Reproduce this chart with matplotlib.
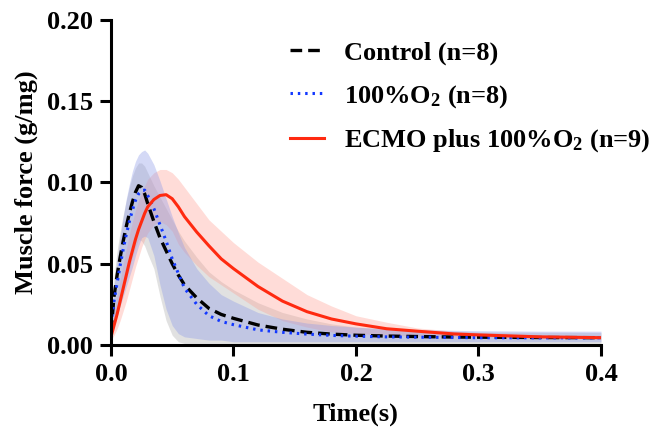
import matplotlib
matplotlib.use("Agg")
import matplotlib.pyplot as plt
import numpy as np

plt.rcParams["font.family"] = ["Liberation Serif", "DejaVu Serif"]
plt.rcParams["font.weight"] = "bold"
plt.rcParams["mathtext.fontset"] = "custom"
plt.rcParams["mathtext.rm"] = "Liberation Serif:bold"
plt.rcParams["mathtext.it"] = "Liberation Serif:bold"
plt.rcParams["mathtext.bf"] = "Liberation Serif:bold"

# time points (s)
time_s = [0, 0.0025, 0.005, 0.0075, 0.01, 0.0125, 0.015, 0.0175, 0.02, 0.0225,
          0.025, 0.0275, 0.03, 0.035, 0.04, 0.045, 0.05, 0.055, 0.06, 0.07,
          0.08, 0.09, 0.1, 0.12, 0.14, 0.16, 0.18, 0.2, 0.225, 0.25, 0.28,
          0.3, 0.35, 0.4]

# Control (n=8)
control_mean = [0.008, 0.030, 0.043, 0.054, 0.064, 0.073, 0.081, 0.088, 0.094, 0.098,
                0.097, 0.093, 0.087, 0.076, 0.066, 0.058, 0.050, 0.043, 0.037, 0.029,
                0.0225, 0.0188, 0.0164, 0.0123, 0.0097, 0.0078, 0.0067, 0.0060, 0.0055, 0.0052, 0.0049,
                0.0048, 0.0046, 0.0045]
control_upper = [0.012, 0.042, 0.058, 0.070, 0.080, 0.089, 0.097, 0.104, 0.109, 0.112,
                 0.112, 0.110, 0.106, 0.098, 0.091, 0.084, 0.077, 0.070, 0.064, 0.054,
                 0.045, 0.039, 0.034, 0.026, 0.020, 0.016, 0.013, 0.011, 0.0095, 0.0088, 0.0083,
                 0.008, 0.0078, 0.0077]
control_lower = [0.004, 0.012, 0.018, 0.025, 0.032, 0.040, 0.047, 0.054, 0.060, 0.065,
                 0.064, 0.061, 0.056, 0.047, 0.030, 0.015, 0.006, 0.002, 0.001, 0.001,
                 0.001, 0.001, 0.001, 0.001, 0.001, 0.001, 0.001, 0.001, 0.001, 0.001, 0.001,
                 0.001, 0.001, 0.001]

# 100%O2 (n=8)
o2_mean = [0.013, 0.027, 0.038, 0.049, 0.059, 0.068, 0.076, 0.083, 0.089, 0.093,
           0.095, 0.0953, 0.092, 0.084, 0.074, 0.064, 0.053, 0.044, 0.035, 0.025,
           0.018, 0.0145, 0.0125, 0.0093, 0.0078, 0.0067, 0.0059, 0.0054, 0.005, 0.0048, 0.0046,
           0.0045, 0.0044, 0.0044]
o2_upper = [0.016, 0.036, 0.052, 0.066, 0.079, 0.090, 0.099, 0.107, 0.113, 0.117,
            0.119, 0.120, 0.118, 0.111, 0.101, 0.090, 0.079, 0.069, 0.060, 0.047,
            0.038, 0.031, 0.027, 0.020, 0.016, 0.0135, 0.012, 0.011, 0.010, 0.0095, 0.009,
            0.0088, 0.0085, 0.0085]
o2_lower = [0.008, 0.013, 0.018, 0.024, 0.030, 0.036, 0.042, 0.048, 0.055, 0.061,
            0.066, 0.067, 0.066, 0.055, 0.037, 0.022, 0.012, 0.007, 0.005, 0.004,
            0.003, 0.003, 0.002, 0.002, 0.002, 0.002, 0.002, 0.002, 0.002, 0.002, 0.002,
            0.002, 0.002, 0.002]

# ECMO plus 100%O2 (n=9)
ecmo_mean = [0.005, 0.012, 0.019, 0.027, 0.035, 0.043, 0.051, 0.058, 0.065, 0.071,
             0.076, 0.081, 0.085, 0.0895, 0.092, 0.0925, 0.090, 0.085, 0.079, 0.0695,
             0.061, 0.053, 0.047, 0.036, 0.027, 0.0205, 0.016, 0.013, 0.010, 0.0085, 0.0068,
             0.0062, 0.005, 0.0045]
ecmo_upper = [0.008, 0.020, 0.030, 0.040, 0.050, 0.059, 0.068, 0.076, 0.083, 0.089,
              0.094, 0.098, 0.102, 0.106, 0.108, 0.108, 0.106, 0.102, 0.097, 0.087,
              0.077, 0.070, 0.063, 0.051, 0.041, 0.031, 0.024, 0.018, 0.014, 0.0105, 0.0085,
              0.0077, 0.0065, 0.006]
ecmo_lower = [0.003, 0.006, 0.010, 0.015, 0.021, 0.027, 0.034, 0.041, 0.048, 0.054,
              0.060, 0.065, 0.069, 0.074, 0.076, 0.074, 0.070, 0.062, 0.057, 0.049,
              0.042, 0.037, 0.032, 0.022, 0.015, 0.011, 0.008, 0.007, 0.006, 0.0055, 0.005,
              0.0047, 0.004, 0.0035]

fig = plt.figure(figsize=(6.49, 4.41), dpi=100)
ax = fig.add_axes([0.171, 0.2177, 0.755, 0.737])

t = np.array(time_s)
ax.fill_between(t, control_lower, control_upper, color="#bdbdbd", alpha=0.45, lw=0)
ax.fill_between(t, ecmo_lower, ecmo_upper, color="#ff9d90", alpha=0.35, lw=0)
ax.fill_between(t, o2_lower, o2_upper, color="#8f9ce8", alpha=0.38, lw=0)

ax.plot(t, control_mean, color="black", lw=2.4, ls=(0, (3.5, 1.8)),
        label="Control (n=8)")
ax.plot(t, o2_mean, color="#1238ff", lw=2.2, ls=(0, (0.8, 1.6)),
        label="100%O$_2$ (n=8)")
ax.plot(t, ecmo_mean, color="#ff2a10", lw=2.2,
        label="ECMO plus 100%O$_2$ (n=9)")

ax.set_xlim(0, 0.4)
ax.set_ylim(0, 0.20)
ax.set_xticks([0.0, 0.1, 0.2, 0.3, 0.4])
ax.set_xticklabels(["0.0", "0.1", "0.2", "0.3", "0.4"])
ax.set_yticks([0.0, 0.05, 0.10, 0.15, 0.20])
ax.set_yticklabels(["0.00", "0.05", "0.10", "0.15", "0.20"])

for side in ["top", "right"]:
    ax.spines[side].set_visible(False)
for side in ["left", "bottom"]:
    ax.spines[side].set_linewidth(2.2)
ax.tick_params(width=2.2, length=8, labelsize=19, pad=5)

ax.set_xlabel("Time(s)", fontsize=19, fontweight="bold", labelpad=12)
ax.set_ylabel("Muscle force (g/mg)", fontsize=19, fontweight="bold", labelpad=6)

ax.legend(loc="upper left", bbox_to_anchor=(0.343, 0.968), frameon=False,
          fontsize=19, handlelength=1.3, handletextpad=0.75, labelspacing=0.68,
          borderaxespad=0)

fig.savefig("out.png", dpi=100)
